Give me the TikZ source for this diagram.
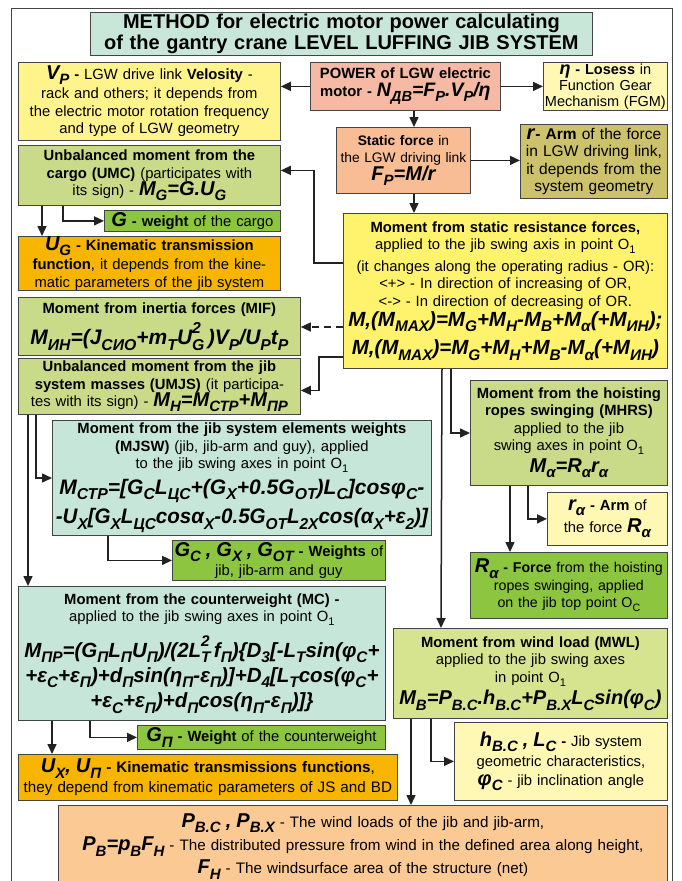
\documentclass[tikz,border=0pt]{standalone}
\usepackage{fontspec}
\setmainfont{Liberation Sans}
\usepackage{graphicx}
\usetikzlibrary{arrows.meta}

\definecolor{cTitle}{HTML}{C9E7D9}
\definecolor{cVp}{HTML}{FFF48C}
\definecolor{cPow}{HTML}{F5B9A4}
\definecolor{cEta}{HTML}{FFF8B4}
\definecolor{cStat}{HTML}{F8BD94}
\definecolor{cArm}{HTML}{CDC26C}
\definecolor{cGreen}{HTML}{C9DB88}
\definecolor{cBright}{HTML}{8CC540}
\definecolor{cOrange}{HTML}{F7B500}
\definecolor{cYellow}{HTML}{FFF36E}
\definecolor{cTeal}{HTML}{C6E6D9}
\definecolor{cMwl}{HTML}{D6E48F}
\definecolor{cWind}{HTML}{FBC994}
\definecolor{boxline}{HTML}{444444}
\definecolor{wire}{HTML}{222222}

% subscripts / superscripts that keep the current font
\newcommand\dn[1]{\raisebox{-0.5ex}{\scalebox{0.75}{#1}}}
\newcommand\dnup[2]{\rlap{\raisebox{1.0ex}{\scalebox{0.75}{#2}}}\dn{#1}}
% bold italic formula text
\newcommand\fm[2][20]{{\fontsize{#1}{#1}\selectfont\bfseries\itshape #2}}
% squeeze a line to a given width, keeping its height
\newcommand\fitw[2]{\resizebox{#1}{\height}{#2}}

\tikzset{
  box/.style={draw=boxline, line width=0.8pt, anchor=north west, align=center,
    inner xsep=0pt, inner ysep=0pt, font=\fontsize{14.8}{17.5}\selectfont},
  arr/.style={draw=wire, line width=1.5pt, -{Triangle[length=10pt,width=9pt]}},
}

\begin{document}
\begin{tikzpicture}[x=1pt,y=-1pt]
\useasboundingbox (0,0) rectangle (682,881);
\draw[boxline, line width=0.8pt] (11,8) rectangle (672,900);

% ---- boxes ----
\node[box, fill=cTitle, text width=502pt, minimum height=43pt,
  font=\fontsize{20}{21.5}\selectfont\bfseries] (title) at (90,12)
  {METHOD for electric motor power calculating\\of the gantry crane LEVEL LUFFING JIB SYSTEM};

\node[box, fill=cVp, text width=262pt, minimum height=78pt] (vp) at (18,62)
  {\fm{V\dn{P}} \textbf{-} LGW drive link \textbf{Velosity} -\\[2pt]
   rack and others; it depends from\\
   the electric motor rotation frequency\\
   and type of LGW geometry};

\node[box, fill=cPow, text width=190pt, minimum height=48pt] (power) at (310,62)
  {\textbf{POWER of LGW electric}\\
   \textbf{motor -} \fm[19.5]{N\dn{ДВ}=F\dn{P}.V\dn{P}/η}};

\node[box, fill=cEta, text width=124pt, minimum height=48pt,
  font=\fontsize{14.5}{16}\selectfont] (eta) at (543,62)
  {\fm[18]{η} \textbf{- Losess} in\\Function Gear\\Mechanism (FGM)};

\node[box, fill=cStat, text width=134pt, minimum height=66pt,
  font=\fontsize{13.8}{17.5}\selectfont] (static) at (336,127)
  {\textbf{Static force} in\\the LGW driving link\\\fm{F\dn{P}=M/r}};

\node[box, fill=cArm, text width=147pt, minimum height=74pt,
  font=\fontsize{15.5}{17.5}\selectfont] (arm) at (520,124)
  {\fm{r}\textbf{- Arm} of the force\\in LGW driving link,\\it depends from the\\system geometry};

\node[box, fill=cGreen, text width=262pt, minimum height=60pt] (umc) at (18,145)
  {\textbf{Unbalanced moment from the}\\
   \textbf{cargo (UMC)} (participates with\\
   its sign) - \fm{M\dn{G}=G.U\dn{G}}};

\node[box, fill=cBright, text width=176pt, minimum height=21pt] (gw) at (104,210)
  {\fm{G} \textbf{- weight} of the cargo};

\node[box, fill=cOrange, text width=262pt, minimum height=54pt] (ug) at (18,236)
  {\fm{U\dn{G}} \textbf{- Kinematic transmission}\\[2pt]
   \textbf{function}, it depends from the kine-\\
   matic parameters of the jib system};

\node[box, fill=cYellow, text width=324pt, minimum height=155pt] (mstat) at (343,213)
  {\textbf{Moment from static resistance forces,}\\
   applied to the jib swing axis in point O\dn{1}\\[4pt]
   (it changes along the operating radius - OR):\\
   <+> - In direction of increasing of OR,\\
   <-> - In direction of decreasing of OR.\\[1pt]
   \fm[20.5]{M,(M\dn{MAX})=M\dn{G}+M\dn{H}-M\dn{B}+M\dn{α}(+M\dn{ИН});}\\[7pt]
   \fm[20.5]{M,(M\dn{MAX})=M\dn{G}+M\dn{H}+M\dn{B}-M\dn{α}(+M\dn{ИН})}};

\node[box, fill=cGreen, text width=282pt, minimum height=58pt] (mif) at (18,297)
  {\textbf{Moment from inertia forces (MIF)}\\[5pt]
   \fm[21]{M\dn{ИН}=(J\dn{СИО}+m\dn{T}U\dnup{G}{2}\,)V\dn{P}/U\dn{P}t\dn{P}}};

\node[box, fill=cGreen, text width=282pt, minimum height=56pt] (umjs) at (18,358)
  {\textbf{Unbalanced moment from the jib}\\
   \textbf{system masses (UMJS)} (it participa-\\
   tes with its sign) - \fm{M\dn{H}=M\dn{СТР}+M\dn{ПР}}};

\node[box, fill=cTeal, text width=379pt, minimum height=115pt] (mjsw) at (52,420)
  {\textbf{Moment from the jib system elements weights}\\
   \textbf{(MJSW)} (jib, jib-arm and guy), applied\\
   to the jib swing axes in point O\dn{1}\\[5pt]
   \fitw{365pt}{\fm[21]{M\dn{СТР}=[G\dn{C}L\dn{ЦС}+(G\dn{X}+0.5G\dn{OT})L\dn{C}]cosφ\dn{C}-}}\\[5pt]
   \fitw{372pt}{\fm[21]{-U\dn{X}[G\dn{X}L\dn{ЦС}cosα\dn{X}-0.5G\dn{OT}L\dn{2X}cos(α\dn{X}+ε\dn{2})]}}};

\node[box, fill=cBright, text width=213pt, minimum height=40pt] (gc) at (172,540)
  {\fm{G\dn{C} , G\dn{X} , G\dn{OT}} \textbf{- Weights} of\\[2pt]jib, jib-arm and guy};

\node[box, fill=cTeal, text width=367pt, minimum height=134pt] (mc) at (18,586)
  {\textbf{Moment from the counterweight (MC) -}\\
   applied to the jib swing axes in point O\dn{1}\\[9pt]
   \fm[20.5]{M\dn{ПР}=(G\dn{П}L\dn{П}U\dn{П})/(2L\dnup{T}{2}\,f\dn{П})\{D\dn{3}[-L\dn{T}sin(φ\dn{C}+}\\[4pt]
   \fm[20.5]{+ε\dn{C}+ε\dn{П})+d\dn{П}sin(η\dn{П}-ε\dn{П})]+D\dn{4}[L\dn{T}cos(φ\dn{C}+}\\[4pt]
   \fm[20.5]{+ε\dn{C}+ε\dn{П})+d\dn{П}cos(η\dn{П}-ε\dn{П})]\}}};

\node[box, fill=cBright, text width=248pt, minimum height=24pt] (gp) at (137,725)
  {\fm{G\dn{П}} \textbf{- Weight} of the counterweight};

\node[box, fill=cOrange, text width=379pt, minimum height=46pt,
  font=\fontsize{15.2}{17.5}\selectfont] (ux) at (18,754)
  {\fm{U\dn{X}, U\dn{П}} \textbf{- Kinematic transmissions functions},\\[2pt]
   they depend from kinematic parameters of JS and BD};

\node[box, fill=cGreen, text width=197pt, minimum height=105pt] (mhrs) at (470,380)
  {\textbf{Moment from the hoisting}\\
   \textbf{ropes swinging (MHRS)}\\
   applied to the jib\\
   swing axes in point O\dn{1}\\[3pt]
   \fm{M\dn{α}=R\dn{α}r\dn{α}}};

\node[box, fill=cEta, text width=120pt, minimum height=53pt] (rarm) at (547,492)
  {\fm{r\dn{α}} \textbf{- Arm} of\\[2pt]the force \fm{R\dn{α}}};

\node[box, fill=cBright, text width=197pt, minimum height=66pt,
  font=\fontsize{14.2}{17.5}\selectfont] (rforce) at (470,552)
  {\fm{R\dn{α}} \textbf{- Force} from the hoisting\\
   ropes swinging, applied\\
   on the jib top point O\dn{C}};

\node[box, fill=cMwl, text width=274pt, minimum height=90pt] (mwl) at (393,628)
  {\textbf{Moment from wind load (MWL)}\\
   applied to the jib swing axes\\
   in point O\dn{1}\\[3pt]
   \fm{M\dn{B}=P\dn{B.C}.h\dn{B.C}+P\dn{B.X}L\dn{C}sin(φ\dn{C})}};

\node[box, fill=cEta, text width=213pt, minimum height=78pt] (hbox) at (454,722)
  {\fm{h\dn{B.C} , L\dn{C}} \textbf{-} Jib system\\[3pt]
   geometric characteristics,\\[1pt]
   \fm{φ\dn{C}} - jib inclination angle};

\node[box, fill=cWind, text width=609pt, minimum height=82pt,
  font=\fontsize{15.2}{18}\selectfont] (wind) at (58,805)
  {\fm{P\dn{B.C} , P\dn{B.X}} - The wind loads of the jib and jib-arm,\\[3pt]
   \fm{P\dn{B}=p\dn{B}F\dn{H}} - The distributed pressure from wind in the defined area along height,\\[3pt]
   \fm{F\dn{H}} - The windsurface area of the structure (net)};

% ---- connectors ----
\draw[arr] (power.west) -- (vp.east |- power.west);
\draw[arr] (power.east) -- (eta.west |- power.east);
\draw[arr] ([xshift=104pt]power.south west) -- ([xshift=78pt]static.north west);
\draw[arr] (static.east) -- (arm.west |- static.east);
\draw[arr] ([xshift=78pt]static.south west) -- ([xshift=71pt]mstat.north west);

\draw[arr] ([yshift=-50pt]mstat.north west) -- ++(-29,0) |- ([yshift=5pt]umc.east);
\draw[arr, dash pattern=on 7pt off 5pt] ([yshift=-114pt]mstat.north west) -- (mif.east |- 0,327);
\draw[arr] ([yshift=-144pt]mstat.north west) -- ++(-24,0) |- ([yshift=-4pt]umjs.east);
\draw[arr] ([xshift=99pt]mstat.south west) -- ([xshift=48pt]mwl.north west);
\draw[arr] ([xshift=108pt]mstat.south west) |- (mhrs.west |- 0,433);

\draw[arr] ([xshift=24pt]umc.south west) -- ([xshift=24pt]ug.north west);
\draw[arr] ([xshift=45pt]umc.south west) |- (gw.west);

\draw[arr] ([xshift=10pt]umjs.south west) -- ([xshift=10pt]mc.north west);
\draw[arr] ([xshift=18pt]umjs.south west) |- (mjsw.west |- 0,478);
\draw[arr] ([xshift=56pt]mjsw.south west) |- (gc.west);

\draw[arr] ([xshift=34pt]mc.south west) -- ([xshift=34pt]ux.north west);
\draw[arr] ([xshift=72pt]mc.south west) |- (gp.west);

\draw[arr] ([xshift=40pt]mhrs.south west) -- ([xshift=40pt]rforce.north west);
\draw[arr] ([xshift=58pt]mhrs.south west) |- (rarm.west);

\draw[arr] ([xshift=18pt]mwl.south west) -- ([xshift=353pt]wind.north west);
\draw[arr] ([xshift=38pt]mwl.south west) |- (hbox.west);
\end{tikzpicture}
\end{document}
